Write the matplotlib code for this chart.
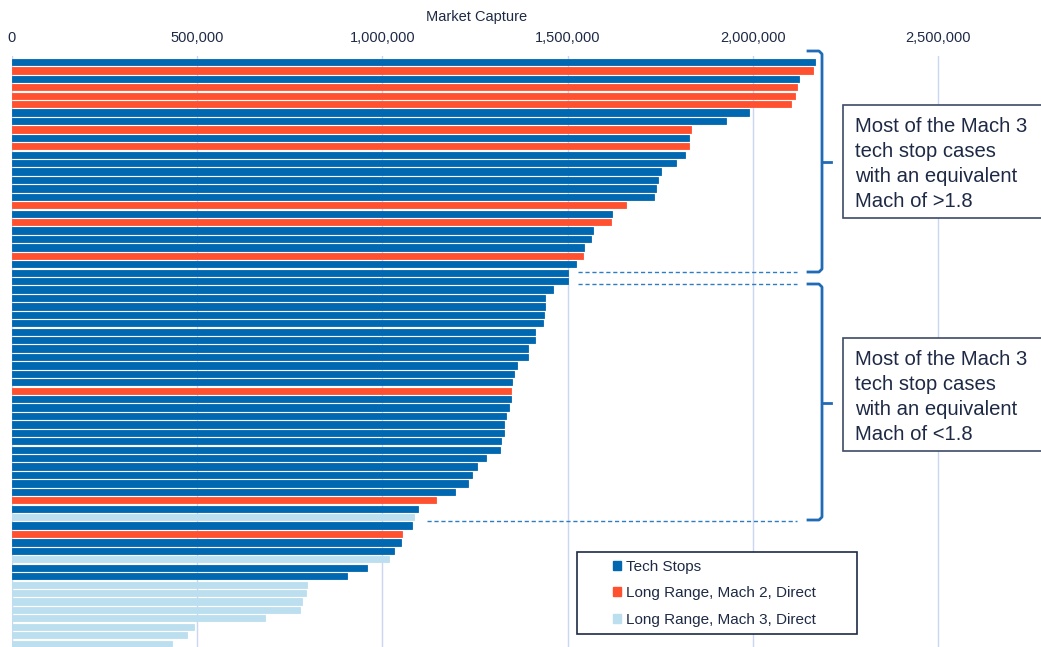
import matplotlib
matplotlib.use('Agg')
import matplotlib.pyplot as plt
from matplotlib.patches import Rectangle, Patch
import numpy as np

plt.rcParams['font.family'] = ['Liberation Sans', 'DejaVu Sans']

# market capture per case, sorted top to bottom
kinds = ['T', 'M2', 'T', 'M2', 'M2', 'M2', 'T', 'T', 'M2', 'T',
         'M2', 'T', 'T', 'T', 'T', 'T', 'T', 'M2', 'T', 'M2',
         'T', 'T', 'T', 'M2', 'T', 'T', 'T', 'T', 'T', 'T',
         'T', 'T', 'T', 'T', 'T', 'T', 'T', 'T', 'T', 'M2',
         'T', 'T', 'T', 'T', 'T', 'T', 'T', 'T', 'T', 'T',
         'T', 'T', 'M2', 'T', 'M3', 'T', 'M2', 'T', 'T', 'M3',
         'T', 'T', 'M3', 'M3', 'M3', 'M3', 'M3', 'M3', 'M3', 'M3']
values = [2167000, 2162000, 2124000, 2120000, 2115000, 2102000, 1989000, 1928000, 1832000, 1827000,
          1827000, 1817000, 1793000, 1753000, 1743000, 1738000, 1734000, 1658000, 1621000, 1617000,
          1569000, 1562000, 1543000, 1541000, 1523000, 1501000, 1501000, 1461000, 1440000, 1440000,
          1437000, 1434000, 1412000, 1412000, 1394000, 1394000, 1363000, 1354000, 1351000, 1347000,
          1347000, 1341000, 1335000, 1329000, 1329000, 1319000, 1317000, 1280000, 1255000, 1243000,
          1231000, 1197000, 1145000, 1095000, 1084000, 1081000, 1053000, 1049000, 1031000, 1019000,
          958000, 904000, 797000, 795000, 783000, 777000, 684000, 491000, 472000, 432000]

series_names = {'T': 'Tech Stops', 'M2': 'Long Range, Mach 2, Direct', 'M3': 'Long Range, Mach 3, Direct'}
colors = {'T': '#0067B1', 'M2': '#FF512F', 'M3': '#BCDFF0'}
xticks = [0, 500000, 1000000, 1500000, 2000000, 2500000]

W, H = 1041, 647
txt = '#1E2A45'

def fx(x):
    return x / W

def fy(y):
    return 1 - y / H

fig = plt.figure(figsize=(W / 100, H / 100), dpi=100)
ax = fig.add_axes([fx(12), 0, 1 - fx(12), (H - 56) / H])

vals = np.array(values)
kk = np.array(kinds)
pos = np.arange(len(vals))
for k in ['T', 'M2', 'M3']:
    m = kk == k
    ax.barh(pos[m], vals[m], height=0.74, color=colors[k],
            edgecolor=colors[k], linewidth=0.6, alpha=1, zorder=3)

ax.set_xlim(0, 2778000)
ax.set_ylim(69.4, -0.71)
ax.xaxis.tick_top()
ax.set_xticks(xticks)
ax.set_xticklabels([f'{v:,}' for v in xticks], fontsize=10.5, color=txt)
ax.tick_params(axis='x', length=0, pad=8)
ax.set_yticks([])
ax.grid(axis='x', color='#C9D6F4', linewidth=1, zorder=0)
for s in ax.spines.values():
    s.set_visible(False)

fig.text(fx(477), fy(17), 'Market Capture', fontsize=10.5, color=txt, ha='center', va='center')

# dashed guide lines
brace_c = '#1F6BB5'
for y, x0 in [(272, 578), (284, 578), (521, 427)]:
    fig.add_artist(plt.Line2D([fx(x0), fx(797)], [fy(y), fy(y)], color='#2E7CC2',
                              linewidth=1, linestyle=(0, (3, 2))))

# braces
for top, bot, mid in [(51, 272, 162), (284, 520, 403)]:
    xs = [808, 819, 822, 822, 819, 808]
    ys = [top, top, top + 3, bot - 3, bot, bot]
    fig.add_artist(plt.Line2D([fx(x) for x in xs], [fy(y) for y in ys], color=brace_c,
                              linewidth=2, solid_joinstyle='round'))
    fig.add_artist(plt.Line2D([fx(822), fx(831)], [fy(mid), fy(mid)], color=brace_c, linewidth=2))

# annotation boxes
notes = ['Most of the Mach 3\ntech stop cases\nwith an equivalent\nMach of >1.8',
         'Most of the Mach 3\ntech stop cases\nwith an equivalent\nMach of <1.8']
for (top, bot), note in zip([(105, 218), (338, 451)], notes):
    fig.add_artist(Rectangle((fx(843), fy(bot)), fx(1060 - 843), (bot - top) / H,
                             facecolor='white', edgecolor='#3D4A66', linewidth=1.2))
    fig.text(fx(855), fy(top + 12), note, fontsize=14.6, color=txt, va='top', ha='left',
             linespacing=1.41)

# legend
fig.add_artist(Rectangle((fx(577), fy(634)), fx(857 - 577), (634 - 552) / H,
                         facecolor='white', edgecolor='#1E2A45', linewidth=1.2))
handles = [Patch(color=colors[k], label=series_names[k]) for k in ['T', 'M2', 'M3']]
fig.legend(handles=handles, loc='upper left', bbox_to_anchor=(fx(599), fy(546)),
           frameon=False, fontsize=11, handlelength=0.55, handleheight=0.55,
           handletextpad=0.35, labelspacing=0.82, labelcolor=txt)

fig.savefig('out.png', dpi=100)
